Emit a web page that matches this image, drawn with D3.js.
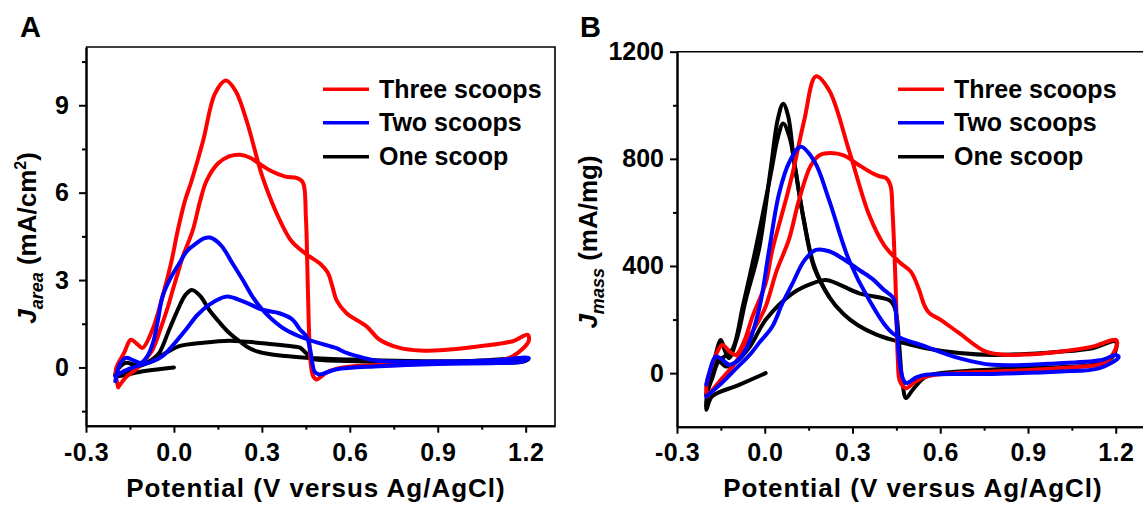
<!DOCTYPE html>
<html lang="en">
<head>
    <meta charset="UTF-8">
    <script src="https://d3js.org/d3.v7.min.js"></script>
    <title>CV curves, area and mass normalised</title>
    <style>
        body { margin:0; background:#fff; }
        text { font-family:"Liberation Sans", Arial, sans-serif; font-weight:bold; fill:#000; }
        .axis path, .axis line { stroke:#000; stroke-width:2; }
        .frame { stroke:#000; stroke-width:1.6; fill:none; }
        .cv { fill:none; stroke-width:4; stroke-linejoin:round; stroke-linecap:round; }
    </style>
</head>
<body>
<script>
    // legend / series
    var seriesNames = ["Three scoops", "Two scoops", "One scoop"];
    var seriesColors = ["#ff0000", "#0000ff", "#000000"];

    // ticks
    var xTicks = [-0.3, 0.0, 0.3, 0.6, 0.9, 1.2];
    var xMinor = [-0.15, 0.15, 0.45, 0.75, 1.05];
    var areaTicks = [0, 3, 6, 9];
    var areaMinor = [-1.5, 1.5, 4.5, 7.5, 10.5];
    var massTicks = [0, 400, 800, 1200];
    var massMinor = [200, 600, 1000];

    // panel A: J_area (mA/cm2) vs potential (V)
    var areaThree = [[-0.19,-0.68],[-0.16,-0.3],[-0.13,-0.07],[-0.1,0.25],[-0.073,0.61],[-0.05,1.2],[-0.039,1.52],[-0.02,2.1],[-0.004,2.66],[0.015,3.3],[0.03,3.8],[0.064,4.7],[0.089,5.7],[0.111,6.4],[0.15,7.0],[0.19,7.25],[0.225,7.3],[0.26,7.2],[0.29,7.0],[0.33,6.75],[0.38,6.55],[0.42,6.5],[0.44,6.35],[0.45,5.2],[0.455,3.5],[0.46,1.5],[0.466,0.2],[0.475,-0.3],[0.487,-0.41],[0.51,-0.25],[0.532,-0.12],[0.589,0.02],[0.7,0.08],[0.85,0.12],[1.0,0.17],[1.1,0.22],[1.157,0.39],[1.21,0.9],[1.207,1.12],[1.156,0.9],[1.043,0.73],[0.93,0.61],[0.839,0.58],[0.77,0.67],[0.702,0.95],[0.657,1.41],[0.589,1.86],[0.555,2.3],[0.54,2.8],[0.525,3.25],[0.5,3.55],[0.45,3.9],[0.4,4.35],[0.35,5.3],[0.3,6.6],[0.25,8.4],[0.21,9.5],[0.177,9.85],[0.14,9.4],[0.1,7.8],[0.06,6.4],[0.037,5.7],[0.013,4.7],[-0.01,3.57],[-0.039,2.43],[-0.073,1.3],[-0.107,0.67],[-0.125,0.8],[-0.147,0.95],[-0.17,0.5],[-0.198,-0.07],[-0.19,-0.68]];
    var areaTwo = [[-0.2,-0.47],[-0.185,0.1],[-0.164,0.33],[-0.14,0.25],[-0.112,0.16],[-0.09,0.4],[-0.07,0.9],[-0.055,1.6],[-0.039,2.43],[-0.01,3.1],[0.018,3.57],[0.045,4.0],[0.075,4.25],[0.1,4.42],[0.123,4.46],[0.16,4.2],[0.2,3.57],[0.235,3.0],[0.268,2.43],[0.3,2.0],[0.336,1.64],[0.38,1.3],[0.427,1.07],[0.49,0.85],[0.552,0.67],[0.589,0.5],[0.65,0.32],[0.7,0.22],[0.9,0.2],[1.1,0.25],[1.21,0.33],[1.19,0.2],[1.1,0.15],[0.9,0.12],[0.7,0.04],[0.552,-0.07],[0.496,-0.24],[0.48,-0.15],[0.473,0.1],[0.465,0.6],[0.452,1.07],[0.43,1.3],[0.405,1.64],[0.36,1.86],[0.302,1.98],[0.24,2.25],[0.177,2.43],[0.12,2.15],[0.08,1.8],[0.041,1.3],[0.0,0.8],[-0.039,0.39],[-0.08,0.18],[-0.13,0.04],[-0.17,-0.12],[-0.2,-0.3]];
    var areaOne = [[0.0,0.0],[-0.1,-0.12],[-0.2,-0.28],[-0.19,-0.05],[-0.164,0.16],[-0.13,0.08],[-0.095,0.16],[-0.07,0.3],[-0.05,0.5],[-0.016,1.3],[0.018,2.09],[0.04,2.5],[0.061,2.66],[0.09,2.45],[0.12,1.98],[0.155,1.55],[0.189,1.18],[0.23,0.85],[0.268,0.61],[0.32,0.47],[0.382,0.39],[0.45,0.33],[0.6,0.27],[0.8,0.22],[1.0,0.22],[1.21,0.3],[1.19,0.2],[1.0,0.18],[0.8,0.17],[0.6,0.22],[0.473,0.3],[0.455,0.45],[0.43,0.68],[0.407,0.72],[0.314,0.82],[0.25,0.88],[0.189,0.92],[0.1,0.85],[0.018,0.73],[-0.027,0.5],[-0.073,0.22],[-0.13,0.0],[-0.198,-0.3]];

    // panel B: J_mass (mA/mg) vs potential (V)
    var massThree = [[-0.197,-87],[-0.15,-25],[-0.1,40],[-0.05,140],[0.0,240],[0.04,380],[0.083,500],[0.117,646],[0.158,776],[0.19,815],[0.226,822],[0.27,813],[0.323,776],[0.37,745],[0.392,735],[0.415,728],[0.43,700],[0.437,600],[0.445,400],[0.449,273],[0.455,50],[0.462,-30],[0.483,-56],[0.51,-35],[0.551,-13],[0.65,0],[0.779,6],[1.008,19],[1.167,43],[1.205,110],[1.2,124],[1.12,99],[1.008,80],[0.9,70],[0.837,68],[0.756,80],[0.665,149],[0.6,200],[0.563,224],[0.545,255],[0.528,310],[0.5,378],[0.46,415],[0.408,478],[0.357,590],[0.288,832],[0.22,1056],[0.175,1108],[0.135,944],[0.095,745],[0.072,646],[0.026,460],[0.003,335],[-0.042,211],[-0.07,120],[-0.099,68],[-0.12,80],[-0.145,105],[-0.17,60],[-0.2,-50],[-0.197,-87]];
    var massTwo = [[-0.2,-87],[-0.15,-40],[-0.1,15],[-0.05,70],[-0.02,112],[0.026,174],[0.06,260],[0.095,335],[0.135,420],[0.175,460],[0.22,455],[0.27,425],[0.323,385],[0.37,350],[0.408,310],[0.44,280],[0.45,200],[0.46,50],[0.472,-20],[0.483,-37],[0.52,-15],[0.551,-6],[0.779,-3],[1.008,6],[1.145,19],[1.21,60],[1.2,68],[1.156,50],[1.008,37],[0.779,31],[0.665,56],[0.551,99],[0.437,149],[0.357,273],[0.288,422],[0.22,646],[0.17,790],[0.123,845],[0.085,790],[0.049,671],[0.015,460],[-0.02,236],[-0.065,87],[-0.1,40],[-0.122,31],[-0.145,50],[-0.168,62],[-0.19,0],[-0.2,-43]];
    var massOne = [[0.003,0],[-0.09,-45],[-0.18,-87],[-0.2,-137],[-0.195,-60],[-0.17,60],[-0.15,124],[-0.135,80],[-0.122,56],[-0.095,130],[-0.065,273],[-0.02,460],[0.02,760],[0.045,950],[0.063,1006],[0.08,960],[0.1,795],[0.134,571],[0.169,400],[0.22,285],[0.27,220],[0.32,178],[0.38,145],[0.437,124],[0.551,93],[0.665,75],[0.779,68],[1.008,80],[1.121,93],[1.2,118],[1.19,62],[1.121,31],[0.894,19],[0.665,6],[0.551,-13],[0.506,-62],[0.483,-93],[0.471,-37],[0.46,100],[0.45,220],[0.44,255],[0.425,273],[0.323,298],[0.209,348],[0.163,335],[0.095,298],[0.003,199],[-0.05,100],[-0.1,40],[-0.134,25],[-0.156,43],[-0.18,-20],[-0.2,-80]];
    var massOneCycle2 = [[-0.2,-80],[-0.17,40],[-0.14,60],[-0.11,90],[-0.075,250],[-0.03,470],[0.02,740],[0.045,880],[0.063,932],[0.085,880],[0.105,760],[0.135,560],[0.17,390],[0.22,285]];

    var width = 1143, height = 507;
    var svg = d3.select("body").append("svg").attr("width", width).attr("height", height);

    var line = d3.line().curve(d3.curveCatmullRom.alpha(0.5));

    function drawPanel(p) {
        var x = d3.scaleLinear().domain([-0.3, 1.3]).range([p.left, p.right]);
        var y = d3.scaleLinear().domain(p.yDomain).range([p.bottom, p.top]);
        var g = svg.append("g");

        var clipId = "clip" + p.label;
        g.append("clipPath").attr("id", clipId).append("rect")
            .attr("x", p.left).attr("y", p.top).attr("width", p.right - p.left).attr("height", p.bottom - p.top);

        // curves: one scoop first, then three, then two on top
        var plot = g.append("g").attr("clip-path", "url(#" + clipId + ")");
        line.x(function(d){ return x(d[0]); }).y(function(d){ return y(d[1]); });
        p.curves.forEach(function(c) {
            plot.append("path").attr("class", "cv").attr("d", line(c.data)).attr("stroke", seriesColors[c.s]);
        });

        // frame (top and right)
        g.append("path").attr("class", "frame")
            .attr("d", "M" + p.left + "," + p.top + "H" + p.right + "V" + p.bottom);

        // axes
        g.append("g").attr("class", "axis").attr("transform", "translate(0," + p.bottom + ")")
            .call(d3.axisBottom(x).tickValues(xTicks).tickSize(7).tickPadding(p.xPad).tickSizeOuter(0)
                .tickFormat(function(d){ return d.toFixed(1); }))
            .call(function(a){ a.selectAll("text").attr("font-size", 25).attr("letter-spacing", "0.5px"); });
        g.append("g").attr("class", "axis").attr("transform", "translate(0," + p.bottom + ")")
            .call(d3.axisBottom(x).tickValues(xMinor).tickSize(4).tickFormat("").tickSizeOuter(0));
        g.append("g").attr("class", "axis").attr("transform", "translate(" + p.left + ",0)")
            .call(d3.axisLeft(y).tickValues(p.yTicks).tickSize(7).tickPadding(p.yPad).tickSizeOuter(0)
                .tickFormat(function(d){ return d; }))
            .call(function(a){ a.selectAll("text").attr("font-size", 25); });
        g.append("g").attr("class", "axis").attr("transform", "translate(" + p.left + ",0)")
            .call(d3.axisLeft(y).tickValues(p.yMinor).tickSize(4).tickFormat("").tickSizeOuter(0));
        svg.selectAll(".axis text").attr("font-family", null).attr("fill", "#000");
        svg.selectAll(".axis").attr("font-family", null);

        // axis titles
        g.append("text").attr("x", p.xTitleX).attr("y", 497).attr("text-anchor", "middle")
            .attr("font-size", 26).attr("letter-spacing", "1px")
            .text("Potential (V versus Ag/AgCl)");

        var yt = g.append("text").attr("text-anchor", "middle").attr("font-size", 26)
            .attr("transform", "translate(" + p.yTitleX + "," + p.yTitleY + ") rotate(-90)");
        yt.append("tspan").attr("font-style", "italic").text("J");
        yt.append("tspan").attr("font-style", "italic").attr("font-size", 18).attr("dy", 7).text(p.sub);
        yt.append("tspan").attr("dy", -7).text("\u00a0(" + p.unit);
        if (p.sup) {
            yt.append("tspan").attr("font-size", 16).attr("dy", -10).text(p.sup);
            yt.append("tspan").attr("dy", 10).text(")");
        } else {
            yt.append("tspan").text(")");
        }

        // panel letter
        g.append("text").attr("x", p.letterX).attr("y", 37).attr("font-size", 29).text(p.label);

        // legend
        seriesNames.forEach(function(name, i) {
            var ly = p.legendY[i];
            g.append("line").attr("x1", p.legendX).attr("x2", p.legendX + 46)
                .attr("y1", ly).attr("y2", ly).attr("stroke", seriesColors[i]).attr("stroke-width", 3.5);
            g.append("text").attr("x", p.legendX + 56).attr("y", ly + 8.5).attr("font-size", 25).text(name);
        });
    }

    drawPanel({
        label: "A", letterX: 20,
        left: 86, right: 555, top: 47, bottom: 425.7,
        yDomain: [-2, 11], yTicks: areaTicks, yMinor: areaMinor,
        xPad: 11, yPad: 10,
        xTitleX: 316, yTitleX: 36, yTitleY: 238,
        sub: "area", unit: "mA/cm", sup: "2",
        legendX: 323, legendY: [89.3, 122.7, 156.7],
        curves: [{s: 2, data: areaOne}, {s: 0, data: areaThree}, {s: 1, data: areaTwo}]
    });

    drawPanel({
        label: "B", letterX: 580,
        left: 677, right: 1145, top: 51.7, bottom: 426.7,
        yDomain: [-200, 1200], yTicks: massTicks, yMinor: massMinor,
        xPad: 10, yPad: 6,
        xTitleX: 913, yTitleX: 597, yTitleY: 242,
        sub: "mass", unit: "mA/mg", sup: null,
        legendX: 898, legendY: [89.3, 122.7, 156.7],
        curves: [{s: 2, data: massOne}, {s: 2, data: massOneCycle2}, {s: 0, data: massThree}, {s: 1, data: massTwo}]
    });
</script>
</body>
</html>
